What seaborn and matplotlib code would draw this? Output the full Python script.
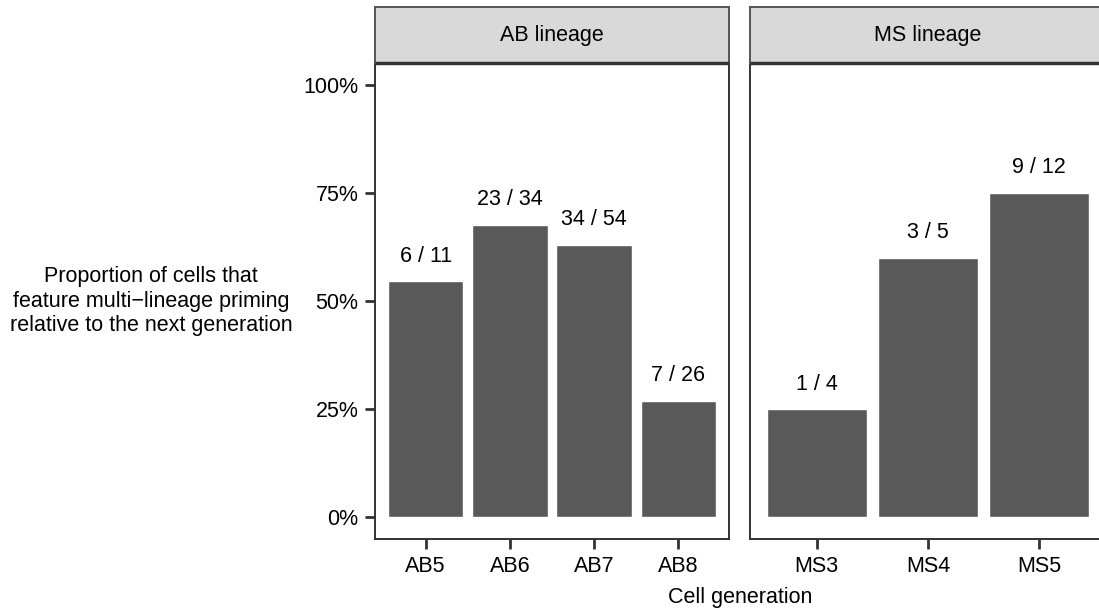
import pandas as pd
import seaborn as sns
import matplotlib.pyplot as plt
from matplotlib.ticker import PercentFormatter

# Data
ab_cells = ['AB5', 'AB6', 'AB7', 'AB8']
ab_primed = [6, 23, 34, 7]
ab_total = [11, 34, 54, 26]

ms_cells = ['MS3', 'MS4', 'MS5']
ms_primed = [1, 3, 9]
ms_total = [4, 5, 12]

panels = [('AB lineage', ab_cells, ab_primed, ab_total),
          ('MS lineage', ms_cells, ms_primed, ms_total)]

sns.set_style('white')
plt.rcParams['font.family'] = ['Liberation Sans', 'DejaVu Sans']
plt.rcParams['font.size'] = 15.5
plt.rcParams['text.color'] = 'black'
plt.rcParams['axes.labelcolor'] = 'black'

W, H = 1099, 613
fig = plt.figure(figsize=(W / 100, H / 100), dpi=100)

# panel boxes in pixels: left, right
boxes = [(375, 729), (750, 1106)]
top, bottom, strip_top = 63, 539, 7
edge = '#333333'
fs = 15.5

for i, ((lab, cells, num, den), (x0, x1)) in enumerate(zip(panels, boxes)):
    df = pd.DataFrame({'cell': cells, 'num': num, 'den': den})
    df['prop'] = df['num'] / df['den']

    ax = fig.add_axes([x0 / W, 1 - bottom / H, (x1 - x0) / W, (bottom - top) / H])
    sns.barplot(data=df, x='cell', y='prop', color='#595959', saturation=1,
                width=0.9, ax=ax)
    ax.set_xlim(-0.6, len(cells) - 0.4)
    ax.set_ylim(-0.05, 1.05)
    ax.set_yticks([0, 0.25, 0.5, 0.75, 1.0])
    ax.yaxis.set_major_formatter(PercentFormatter(1.0, decimals=0))
    for s in ax.spines.values():
        s.set_visible(True)
        s.set_color(edge)
        s.set_linewidth(1.4)
    ax.tick_params(axis='both', bottom=True, left=True, length=7, width=2,
                   color=edge, labelcolor='black', labelsize=fs)
    ax.tick_params(axis='y', pad=5)
    ax.tick_params(axis='x', pad=5)
    ax.set_xlabel('')
    if i == 0:
        ax.set_ylabel('Proportion of cells that\nfeature multi\u2212lineage priming\nrelative to the next generation',
                      rotation=0, ha='center', va='center', fontsize=fs, linespacing=1.2)
        ax.yaxis.set_label_coords((151 - x0) / (x1 - x0), 0.5)
    else:
        ax.set_ylabel('')
        ax.tick_params(axis='y', left=False, labelleft=False)

    for j, row in df.iterrows():
        ax.annotate(f"{row['num']} / {row['den']}", (j, row['prop']),
                    xytext=(0, 18), textcoords='offset points',
                    ha='center', va='center', fontsize=fs)

    # facet strip
    sax = fig.add_axes([x0 / W, 1 - top / H, (x1 - x0) / W, (top - strip_top) / H])
    sax.set_facecolor('#d9d9d9')
    sax.set_xticks([])
    sax.set_yticks([])
    for s in sax.spines.values():
        s.set_color('#555555')
        s.set_linewidth(1.4)
    sax.spines['bottom'].set_color(edge)
    sax.spines['bottom'].set_linewidth(2.5)
    sax.spines['bottom'].set_capstyle('butt')
    sax.text(0.5, 0.5, lab, transform=sax.transAxes, ha='center', va='center',
             fontsize=fs)

fig.text(740 / W, 1 - 598 / H, 'Cell generation', ha='center', va='center',
         fontsize=fs)

fig.savefig('out.png', dpi=100)
